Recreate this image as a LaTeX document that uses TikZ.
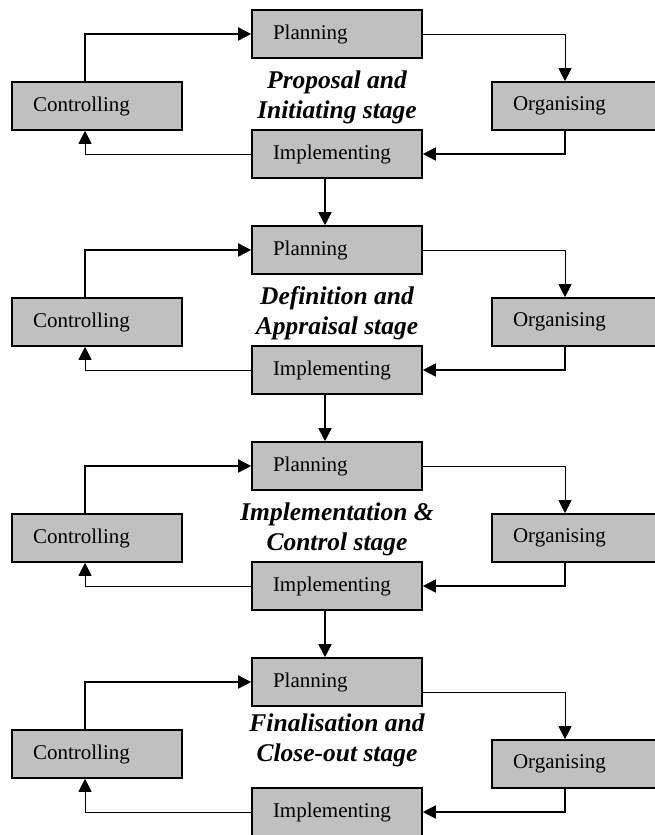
\documentclass[tikz,border=0pt]{standalone}
\usepackage{fontspec}
\setmainfont{Liberation Serif}
\usepackage{xcolor}
\usepackage{tikz}
\usetikzlibrary{arrows.meta,positioning}
\definecolor{boxgray}{HTML}{C0C0C0}

\begin{document}
\begin{tikzpicture}[x=1pt,y=-1pt,
 box/.style={draw,line width=1.6pt,fill=boxgray,minimum width=170pt,minimum height=48pt,
  inner xsep=21pt,text width=128pt,align=left,font=\fontsize{21}{25}\selectfont},
 stage/.style={align=center,font=\fontsize{25.5}{30}\selectfont\bfseries\itshape},
 thk/.style={-{Triangle[length=13pt,width=13pt]},line width=1.6pt},
 thn/.style={-{Triangle[length=13pt,width=13pt]},line width=0.8pt}]
\useasboundingbox (0,0) rectangle (654,835);
% stage 1
\node[box] (pla1) at (337,34) {Planning};
\node[box] (con1) at (97,106) {Controlling};
\node[box] (org1) at (577,106) {Organising};
\node[box] (imp1) at (337,154) {Implementing};
\node[stage] (ttl1) at (337,97) {Proposal and\\Initiating stage};
% stage 2
\node[box] (pla2) at (337,250) {Planning};
\node[box] (con2) at (97,322) {Controlling};
\node[box] (org2) at (577,322) {Organising};
\node[box] (imp2) at (337,370) {Implementing};
\node[stage] (ttl2) at (337,313) {Definition and\\Appraisal stage};
% stage 3
\node[box] (pla3) at (337,466) {Planning};
\node[box] (con3) at (97,538) {Controlling};
\node[box] (org3) at (577,538) {Organising};
\node[box] (imp3) at (337,586) {Implementing};
\node[stage] (ttl3) at (337,529) {Implementation \&\\Control stage};
% stage 4 (right half sits a little lower)
\node[box] (pla4) at (337,682) {Planning};
\node[box] (con4) at (97,754) {Controlling};
\node[box] (org4) at (577,764) {Organising};
\node[box] (imp4) at (337,812) {Implementing};
\node[stage] (ttl4) at (337,740) {Finalisation and\\Close-out stage};
% cycles
\draw[thk] ([xshift=-12pt]con1.north) |- (pla1.west);
\draw[thn] (pla1.east) -| ([xshift=-12pt]org1.north);
\draw[thk] ([xshift=-12pt]org1.south) |- (imp1.east);
\draw[thn] (imp1.west) -| ([xshift=-12pt]con1.south);
\draw[thk] ([xshift=-12pt]con2.north) |- (pla2.west);
\draw[thn] (pla2.east) -| ([xshift=-12pt]org2.north);
\draw[thk] ([xshift=-12pt]org2.south) |- (imp2.east);
\draw[thn] (imp2.west) -| ([xshift=-12pt]con2.south);
\draw[thk] ([xshift=-12pt]con3.north) |- (pla3.west);
\draw[thn] (pla3.east) -| ([xshift=-12pt]org3.north);
\draw[thk] ([xshift=-12pt]org3.south) |- (imp3.east);
\draw[thn] (imp3.west) -| ([xshift=-12pt]con3.south);
\draw[thk] ([xshift=-12pt]con4.north) |- (pla4.west);
\draw[thn] ([yshift=-10pt]pla4.east) -| ([xshift=-12pt]org4.north);
\draw[thk] ([xshift=-12pt]org4.south) |- (imp4.east);
\draw[thn] (imp4.west) -| ([xshift=-12pt]con4.south);
% stage to stage
\draw[thk] ([xshift=-12pt]imp1.south) -- ([xshift=-12pt]pla2.north);
\draw[thk] ([xshift=-12pt]imp2.south) -- ([xshift=-12pt]pla3.north);
\draw[thk] ([xshift=-12pt]imp3.south) -- ([xshift=-12pt]pla4.north);
\end{tikzpicture}
\end{document}
